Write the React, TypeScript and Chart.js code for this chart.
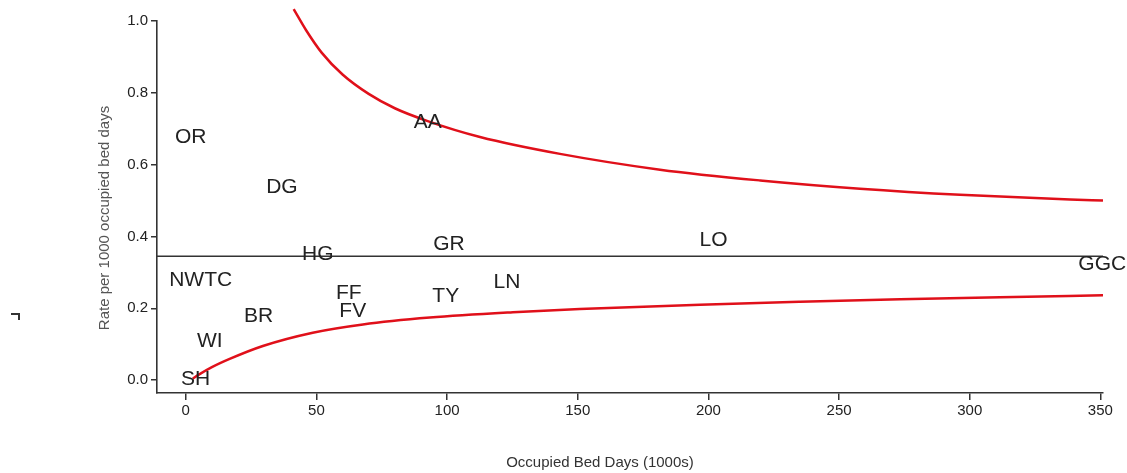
import React, { useEffect, useRef } from "react";
import { Chart, registerables } from "chart.js";

Chart.register(...registerables);

const FONT = "'Liberation Sans', Arial, Helvetica, sans-serif";

// Tick values
const xTicks = [0, 50, 100, 150, 200, 250, 300, 350];
const yTicks = [0, 0.2, 0.4, 0.6, 0.8, 1.0];

// Board labels and their positions (occupied bed days 1000s, rate)
const boardNames = ["OR", "DG", "AA", "HG", "GR", "LO", "GGC", "NWTC", "LN", "FF", "TY", "FV", "BR", "WI", "SH"];
const boardBedDays = [1.9, 36.8, 92.6, 50.5, 100.7, 202, 350.7, 5.7, 122.9, 62.4, 99.5, 63.9, 27.9, 9.2, 3.8];
const boardRates = [0.677, 0.538, 0.719, 0.351, 0.379, 0.39, 0.323, 0.279, 0.273, 0.242, 0.234, 0.192, 0.178, 0.109, 0.003];

// Control limits
const upperX = [41.3, 46, 52, 60, 70, 80, 92.3, 112.6, 143.2, 181.5, 219.8, 258, 296.3, 338.4, 351];
const upperY = [1.033, 0.975, 0.912, 0.851, 0.797, 0.757, 0.722, 0.677, 0.63, 0.586, 0.556, 0.533, 0.516, 0.503, 0.5];
const lowerX = [2.7, 5, 10, 16.8, 29.5, 48.6, 67.8, 93.4, 125.2, 150.8, 196.8, 235.1, 273.4, 311.6, 351];
const lowerY = [0.004, 0.015, 0.036, 0.059, 0.095, 0.132, 0.155, 0.174, 0.189, 0.198, 0.21, 0.218, 0.225, 0.231, 0.236];

// Overall mean rate
const meanX = [-11, 351];
const meanY = [0.345, 0.345];

const xTitle = "Occupied Bed Days (1000s)";
const yTitle = "Rate per 1000 occupied bed days";

export default function App() {
  const ref = useRef<HTMLCanvasElement | null>(null);

  useEffect(() => {
    if (!ref.current) return;
    const labelPlugin = {
      id: "boardLabels",
      afterDatasetsDraw(chart: any) {
        const ctx = chart.ctx;
        const meta = chart.getDatasetMeta(3);
        ctx.save();
        ctx.font = `21px ${FONT}`;
        ctx.fillStyle = "#222";
        ctx.textAlign = "center";
        ctx.textBaseline = "middle";
        meta.data.forEach((el: any, i: number) => {
          ctx.fillText(boardNames[i], el.x, el.y);
        });
        ctx.restore();
      },
      afterDraw(chart: any) {
        const ctx = chart.ctx;
        ctx.save();
        ctx.font = `15px ${FONT}`;
        ctx.fillStyle = "#333";
        ctx.textAlign = "center";
        ctx.textBaseline = "middle";
        ctx.fillText(xTitle, 600, 463);
        ctx.translate(105, 218);
        ctx.rotate(-Math.PI / 2);
        ctx.fillStyle = "#555";
        ctx.fillText(yTitle, 0, 0);
        ctx.restore();
        ctx.save();
        ctx.strokeStyle = "#333";
        ctx.lineWidth = 2;
        ctx.beginPath();
        ctx.moveTo(11, 314);
        ctx.lineTo(19, 314);
        ctx.lineTo(19, 320);
        ctx.stroke();
        ctx.restore();
      },
    };

    const chart = new Chart(ref.current, {
      type: "scatter",
      data: {
        datasets: [
          {
            data: upperX.map((x, i) => ({ x, y: upperY[i] })),
            showLine: true,
            borderColor: "#e0101a",
            borderWidth: 2.5,
            pointRadius: 0,
            cubicInterpolationMode: "monotone",
            clip: false,
          } as any,
          {
            data: lowerX.map((x, i) => ({ x, y: lowerY[i] })),
            showLine: true,
            borderColor: "#e0101a",
            borderWidth: 2.5,
            pointRadius: 0,
            cubicInterpolationMode: "monotone",
          } as any,
          {
            data: meanX.map((x, i) => ({ x, y: meanY[i] })),
            showLine: true,
            borderColor: "#333",
            borderWidth: 1.6,
            pointRadius: 0,
          } as any,
          {
            data: boardBedDays.map((x, i) => ({ x, y: boardRates[i] })),
            pointRadius: 0,
            showLine: false,
          } as any,
        ],
      },
      options: {
        responsive: false,
        animation: false,
        layout: { padding: { top: 21, right: 24, bottom: 0, left: 0 } },
        plugins: { legend: { display: false }, tooltip: { enabled: false } },
        scales: {
          x: {
            type: "linear",
            min: -11,
            max: 351,
            afterBuildTicks: (s: any) => {
              s.ticks = xTicks.map((v) => ({ value: v }));
            },
            afterFit: (s: any) => {
              s.height = 80;
            },
            grid: { display: true, drawOnChartArea: false, drawTicks: true, tickLength: 7, color: "#333", lineWidth: 1.5 },
            border: { display: true, color: "#333", width: 1.6 },
            ticks: {
              font: { size: 15, family: FONT },
              color: "#222",
              padding: 2,
              maxRotation: 0,
              autoSkip: false,
              callback: (v: any) => String(v),
            },
          },
          y: {
            type: "linear",
            min: -0.036,
            max: 1.0,
            afterBuildTicks: (s: any) => {
              s.ticks = yTicks.map((v) => ({ value: v }));
            },
            afterFit: (s: any) => {
              s.width = 157;
            },
            grid: { display: true, drawOnChartArea: false, drawTicks: true, tickLength: 6, color: "#333", lineWidth: 1.5 },
            border: { display: true, color: "#333", width: 1.6 },
            ticks: {
              font: { size: 15, family: FONT },
              color: "#222",
              padding: 3,
              autoSkip: false,
              callback: (v: any) => Number(v).toFixed(1),
            },
          },
        },
      } as any,
      plugins: [labelPlugin],
    });
    return () => chart.destroy();
  }, []);

  return (
    <div style={{ position: "absolute", left: 0, top: 0, width: 1127, height: 473, background: "#fff" }}>
      <canvas ref={ref} width={1127} height={473} />
    </div>
  );
}
